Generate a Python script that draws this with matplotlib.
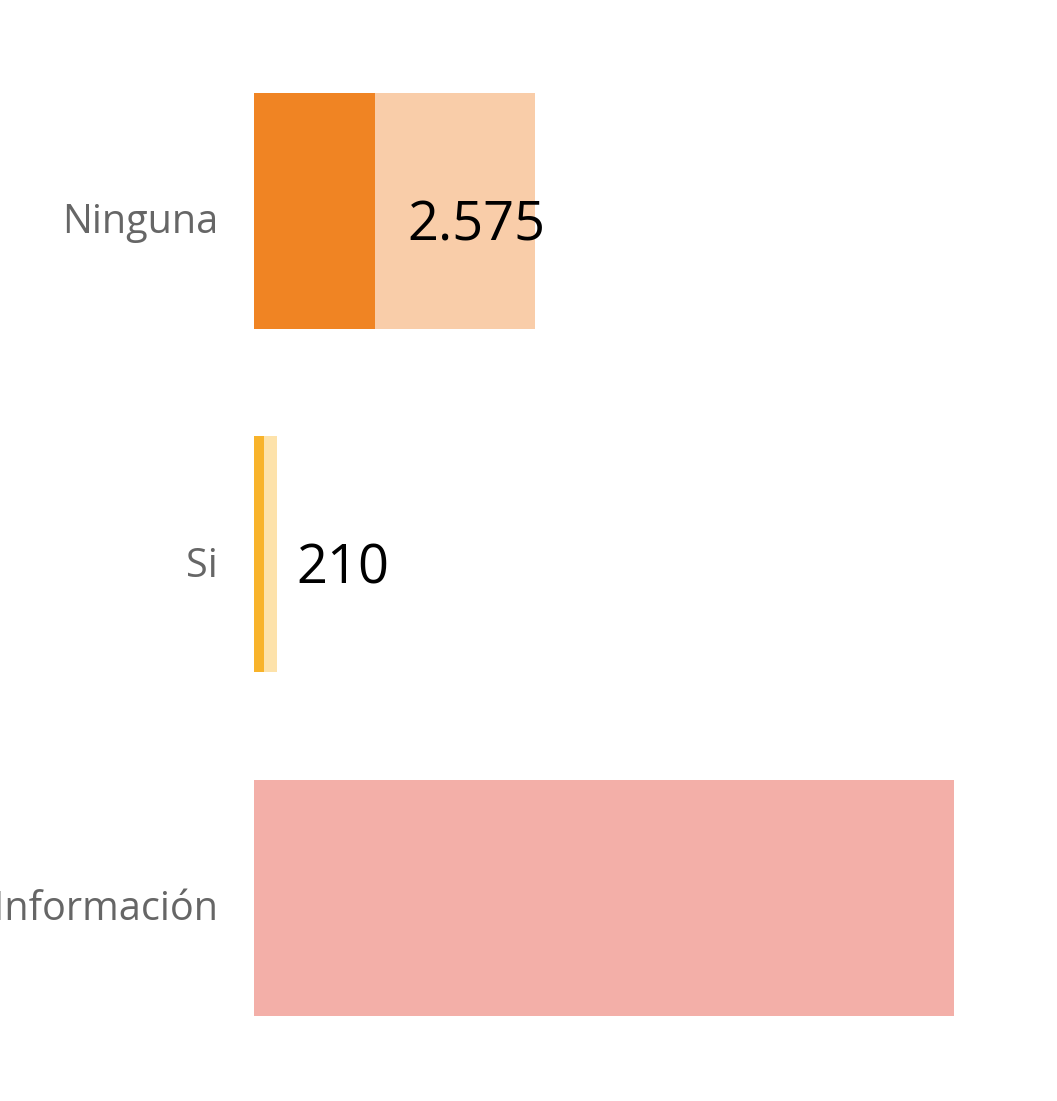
import matplotlib.pyplot as plt
import matplotlib.transforms as mtransforms

# data
categories = ["Ninguna", "Si", "Sin Información"]
totals = [2575, 210, 6414]
parts = [1109, 92, 0]
labels = ["2.575", "210", ""]

light_colors = ["#F9CDA9", "#FDE2AA", "#F3AFA8"]
dark_colors = ["#F08423", "#F8B32A", "#F3AFA8"]

W, H = 1057, 1101
fig = plt.figure(figsize=(W / 100, H / 100), dpi=100)
# axes starts at x=254 px; 281 px per 2575 units
left_px, right_px = 254, 1040
ax = fig.add_axes([left_px / W, 0, (right_px - left_px) / W, 1])
px_per_unit = 281 / 2575
ax.set_xlim(0, (right_px - left_px) / px_per_unit)

# category centres at 211 px, spacing 343.5 px
step = 343.5
top = -211 / step
ax.set_ylim((H - 211) / step, top)

ypos = list(range(len(categories)))
bar_h = 236 / step
ax.barh(ypos, totals, height=bar_h, color=light_colors, linewidth=0)
ax.barh(ypos, parts, height=bar_h, color=dark_colors, linewidth=0)

for y, p, lab in zip(ypos, parts, labels):
    if lab:
        ax.annotate(lab, xy=(p, y), xytext=(23.5, -21), textcoords="offset points",
                    ha="left", va="baseline", fontsize=39, family="Open Sans",
                    color="black")

ax.set_yticks(ypos)
ax.set_yticklabels(categories, fontsize=28.5, family="Open Sans", color="#666666")
ax.tick_params(axis="y", length=0, pad=26)
# nudge category labels down a little
shift = mtransforms.ScaledTranslation(0, -7 / 100, fig.dpi_scale_trans)
for t in ax.get_yticklabels():
    t.set_transform(t.get_transform() + shift)
ax.set_xticks([])
for s in ax.spines.values():
    s.set_visible(False)

fig.savefig("out.png", dpi=100)
